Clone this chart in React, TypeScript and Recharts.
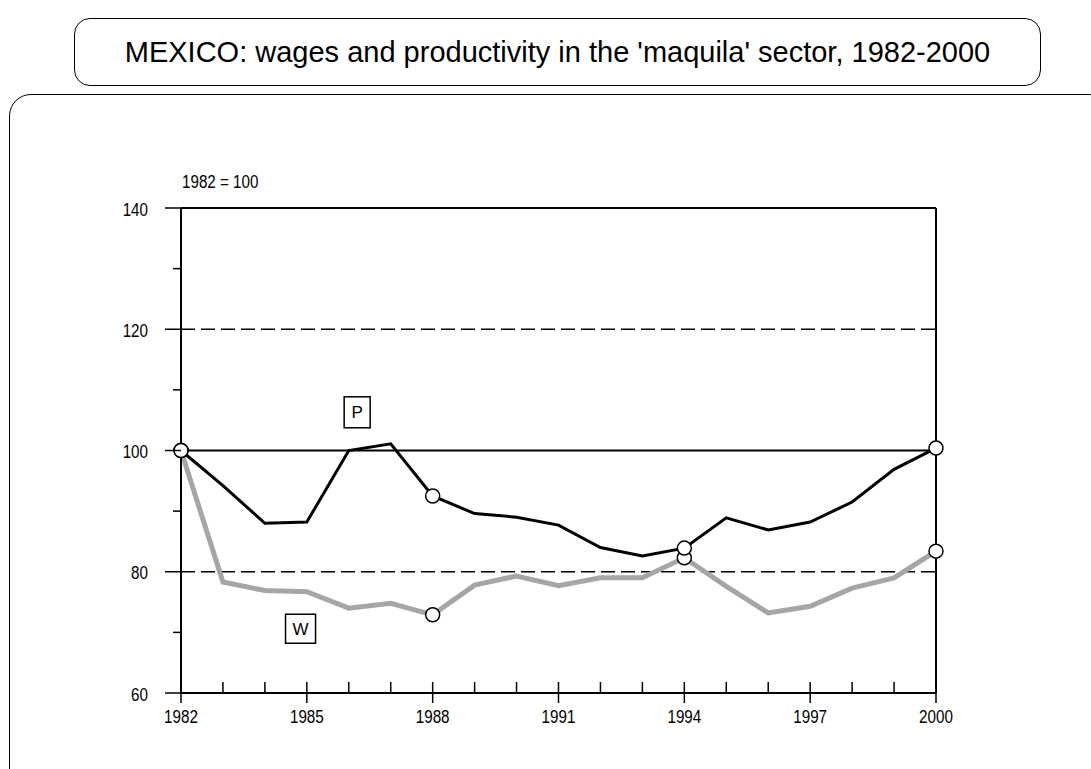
import { LineChart, Line, XAxis, YAxis, ReferenceLine, ReferenceDot } from "recharts";

const years = [1982, 1983, 1984, 1985, 1986, 1987, 1988, 1989, 1990, 1991, 1992, 1993, 1994, 1995, 1996, 1997, 1998, 1999, 2000];
const productivity = [100, 94.2, 88.0, 88.2, 100, 101.1, 92.5, 89.6, 89.0, 87.7, 84.0, 82.6, 83.9, 88.9, 86.9, 88.2, 91.5, 96.9, 100.4];
const wages = [100, 78.3, 76.9, 76.7, 74.0, 74.8, 72.9, 77.8, 79.3, 77.7, 79.0, 79.0, 82.3, 77.6, 73.2, 74.3, 77.3, 79.0, 83.4];
const markerYears = [1982, 1988, 1994, 2000];
const labeledYears = [1982, 1985, 1988, 1991, 1994, 1997, 2000];
const yTicks = [60, 70, 80, 90, 100, 110, 120, 130, 140];
const yLabels = [60, 80, 100, 120, 140];

const data = years.map((year, i) => ({ year, P: productivity[i], W: wages[i] }));

const FONT = '"Liberation Sans", Arial, sans-serif';

// the source uses a tall, condensed face: squeeze Liberation Sans horizontally
function Condensed({ x, y, anchor, children }: any) {
    return (
        <text
            transform={`translate(${x},${y}) scale(0.8,1)`}
            textAnchor={anchor}
            fontSize={19}
            fontFamily={FONT}
            fill="#000"
        >
            {children}
        </text>
    );
}

function LeftTick({ x, y, payload }: any) {
    const major = yLabels.includes(payload.value);
    return (
        <g>
            <line x1={x - (major ? 16 : 8)} x2={x} y1={y} y2={y} stroke="#000" strokeWidth={1.5} />
            {major && <Condensed x={x - 33} y={y + 7.5} anchor="end">{payload.value}</Condensed>}
        </g>
    );
}

function RightTick({ x, y, payload }: any) {
    const major = yLabels.includes(payload.value);
    return (
        <g>
            <line x1={x} x2={x + (major ? 14 : 8)} y1={y} y2={y} stroke="#000" strokeWidth={1.5} />
            {major && <Condensed x={x + 22} y={y + 7.5} anchor="start">{payload.value}</Condensed>}
        </g>
    );
}

function YearTick({ x, y, payload }: any) {
    const major = labeledYears.includes(payload.value);
    return (
        <g>
            <line x1={x} x2={x} y1={y - 11} y2={major ? y + 10 : y} stroke="#000" strokeWidth={1.5} />
            {major && <Condensed x={x} y={y + 30} anchor="middle">{payload.value}</Condensed>}
        </g>
    );
}

function Marker({ cx, cy, payload }: any) {
    if (!markerYears.includes(payload.year)) return <g key={`m-${payload.year}`} />;
    return <circle key={`m-${payload.year}`} cx={cx} cy={cy} r={7} fill="#fff" stroke="#000" strokeWidth={1.5} />;
}

function boxLabel(text: string, w: number, h: number) {
    return ({ cx, cy }: any) => (
        <g>
            <rect x={cx - w / 2} y={cy - h / 2} width={w} height={h} fill="#fff" stroke="#000" strokeWidth={1.5} />
            <text x={cx} y={cy + 6} textAnchor="middle" fontSize={17} fontFamily={FONT} fill="#000">
                {text}
            </text>
        </g>
    );
}

export default function App() {
    return (
        <div style={{ position: "absolute", left: 0, top: 0, width: 1091, height: 769, overflow: "hidden", background: "#fff", fontFamily: FONT }}>
            <div
                style={{
                    position: "absolute", left: 74, top: 18, width: 967, height: 68, boxSizing: "border-box",
                    border: "1.5px solid #000", borderRadius: 16, display: "flex", alignItems: "center",
                    justifyContent: "center", fontSize: 29, color: "#000",
                }}
            >
                MEXICO: wages and productivity in the 'maquila' sector, 1982-2000
            </div>
            <div
                style={{
                    position: "absolute", left: 9, top: 94, width: 1102, height: 800, boxSizing: "border-box",
                    border: "1.5px solid #000", borderRadius: 22,
                }}
            />
            <div style={{ position: "absolute", left: 0, top: 0 }}>
                <LineChart width={1091} height={769} data={data} margin={{ top: 208, right: 95, bottom: 36, left: 121 }}>
                    <XAxis
                        dataKey="year"
                        type="number"
                        domain={[1982, 2000]}
                        ticks={years}
                        interval={0}
                        height={40}
                        tickSize={0}
                        tickMargin={0}
                        tickLine={false}
                        axisLine={{ stroke: "#000", strokeWidth: 2 }}
                        tick={<YearTick />}
                    />
                    <YAxis
                        yAxisId="left"
                        domain={[60, 140]}
                        ticks={yTicks}
                        interval={0}
                        width={60}
                        tickSize={0}
                        tickMargin={0}
                        tickLine={false}
                        axisLine={{ stroke: "#000", strokeWidth: 2 }}
                        tick={<LeftTick />}
                        label={({ viewBox }: any) => (
                            <Condensed x={viewBox.x + viewBox.width + 1} y={viewBox.y - 20} anchor="start">
                                {"1982 = 100"}
                            </Condensed>
                        )}
                    />
                    <YAxis
                        yAxisId="right"
                        orientation="right"
                        domain={[60, 140]}
                        ticks={yTicks}
                        interval={0}
                        width={60}
                        tickSize={0}
                        tickMargin={0}
                        tickLine={false}
                        axisLine={{ stroke: "#000", strokeWidth: 2 }}
                        tick={<RightTick />}
                    />
                    <ReferenceLine yAxisId="left" y={140} stroke="#000" strokeWidth={2} />
                    <ReferenceLine yAxisId="left" y={100} stroke="#000" strokeWidth={2} />
                    <ReferenceLine yAxisId="left" y={120} stroke="#000" strokeWidth={1.5} strokeDasharray="14 6" />
                    <ReferenceLine yAxisId="left" y={80} stroke="#000" strokeWidth={1.5} strokeDasharray="14 6" />
                    <Line
                        yAxisId="left"
                        dataKey="W"
                        type="linear"
                        stroke="#a6a6a6"
                        strokeWidth={5}
                        dot={<Marker />}
                        activeDot={false}
                        isAnimationActive={false}
                    />
                    <Line
                        yAxisId="left"
                        dataKey="P"
                        type="linear"
                        stroke="#000"
                        strokeWidth={3}
                        dot={<Marker />}
                        activeDot={false}
                        isAnimationActive={false}
                    />
                    <ReferenceDot yAxisId="left" x={1986.2} y={106.3} r={0} shape={boxLabel("P", 26, 31)} />
                    <ReferenceDot yAxisId="left" x={1984.85} y={70.6} r={0} shape={boxLabel("W", 30, 29)} />
                </LineChart>
            </div>
        </div>
    );
}
